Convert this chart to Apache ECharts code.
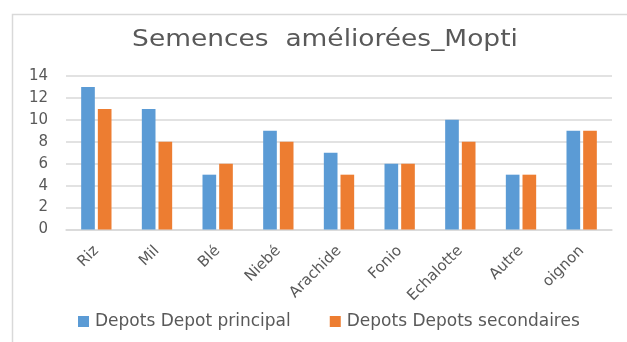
<!DOCTYPE html>
<html>
<head>
<meta charset="utf-8">
<script src="https://cdn.jsdelivr.net/npm/echarts@6/dist/echarts.min.js"></script>
<style>
  html, body { margin: 0; padding: 0; background: #ffffff; }
  #chart { width: 627px; height: 342px; }
</style>
</head>
<body>
<div id="chart"></div>
<script>
// Crops and quantities held in each depot type
const categories = ['Riz', 'Mil', 'Blé', 'Niebé', 'Arachide', 'Fonio', 'Echalotte', 'Autre', 'oignon'];
const depotPrincipal = [13, 11, 5, 9, 7, 6, 10, 5, 9];
const depotsSecondaires = [11, 8, 6, 8, 5, 6, 8, 5, 9];
const seriesNames = ['Depots Depot principal', 'Depots Depots secondaires'];
const chartTitle = 'Semences  améliorées_Mopti';

const textColor = '#595959';
const lineColor = '#d9d9d9';
const fontFamily = '"DejaVu Sans", "Open Sans", sans-serif';

const chart = echarts.init(document.getElementById('chart'), null, { renderer: 'canvas' });

chart.setOption({
  animation: false,
  backgroundColor: '#ffffff',
  color: ['#5b9bd5', '#ed7d31'],
  graphic: [
    {
      // chart frame
      type: 'rect',
      left: 10,
      top: 12,
      shape: { width: 660, height: 360 },
      style: { fill: 'none', stroke: lineColor, lineWidth: 1.5 },
      silent: true
    },
    {
      // title, drawn slightly widened
      type: 'text',
      x: 325,
      y: 29,
      scaleX: 1.15,
      style: {
        text: chartTitle,
        fill: textColor,
        fontSize: 23,
        fontFamily: fontFamily,
        align: 'center',
        verticalAlign: 'top'
      },
      silent: true
    }
  ],
  legend: {
    left: 78,
    top: 313,
    padding: 0,
    itemWidth: 11,
    itemHeight: 11,
    itemGap: 39,
    icon: 'rect',
    textStyle: { color: textColor, fontSize: 17, fontFamily: fontFamily, padding: [0, 0, 0, 1] },
    data: seriesNames
  },
  grid: { left: 66, right: 15, top: 76, bottom: 112.5, containLabel: false },
  xAxis: {
    type: 'category',
    data: categories,
    axisLine: { lineStyle: { color: lineColor, width: 1.5 } },
    axisTick: { show: false },
    axisLabel: {
      rotate: 45,
      margin: 19,
      interval: 0,
      color: textColor,
      fontSize: 15,
      fontFamily: fontFamily
    }
  },
  yAxis: {
    type: 'value',
    min: 0,
    max: 14,
    interval: 2,
    axisLine: { show: false },
    axisTick: { show: false },
    splitLine: { lineStyle: { color: lineColor, width: 1.5 } },
    axisLabel: { color: textColor, fontSize: 15, fontFamily: fontFamily, margin: 18 }
  },
  series: [
    {
      name: seriesNames[0],
      type: 'bar',
      data: depotPrincipal,
      barGap: '22%',
      barCategoryGap: '50%'
    },
    {
      name: seriesNames[1],
      type: 'bar',
      data: depotsSecondaires
    }
  ]
});
</script>
</body>
</html>
